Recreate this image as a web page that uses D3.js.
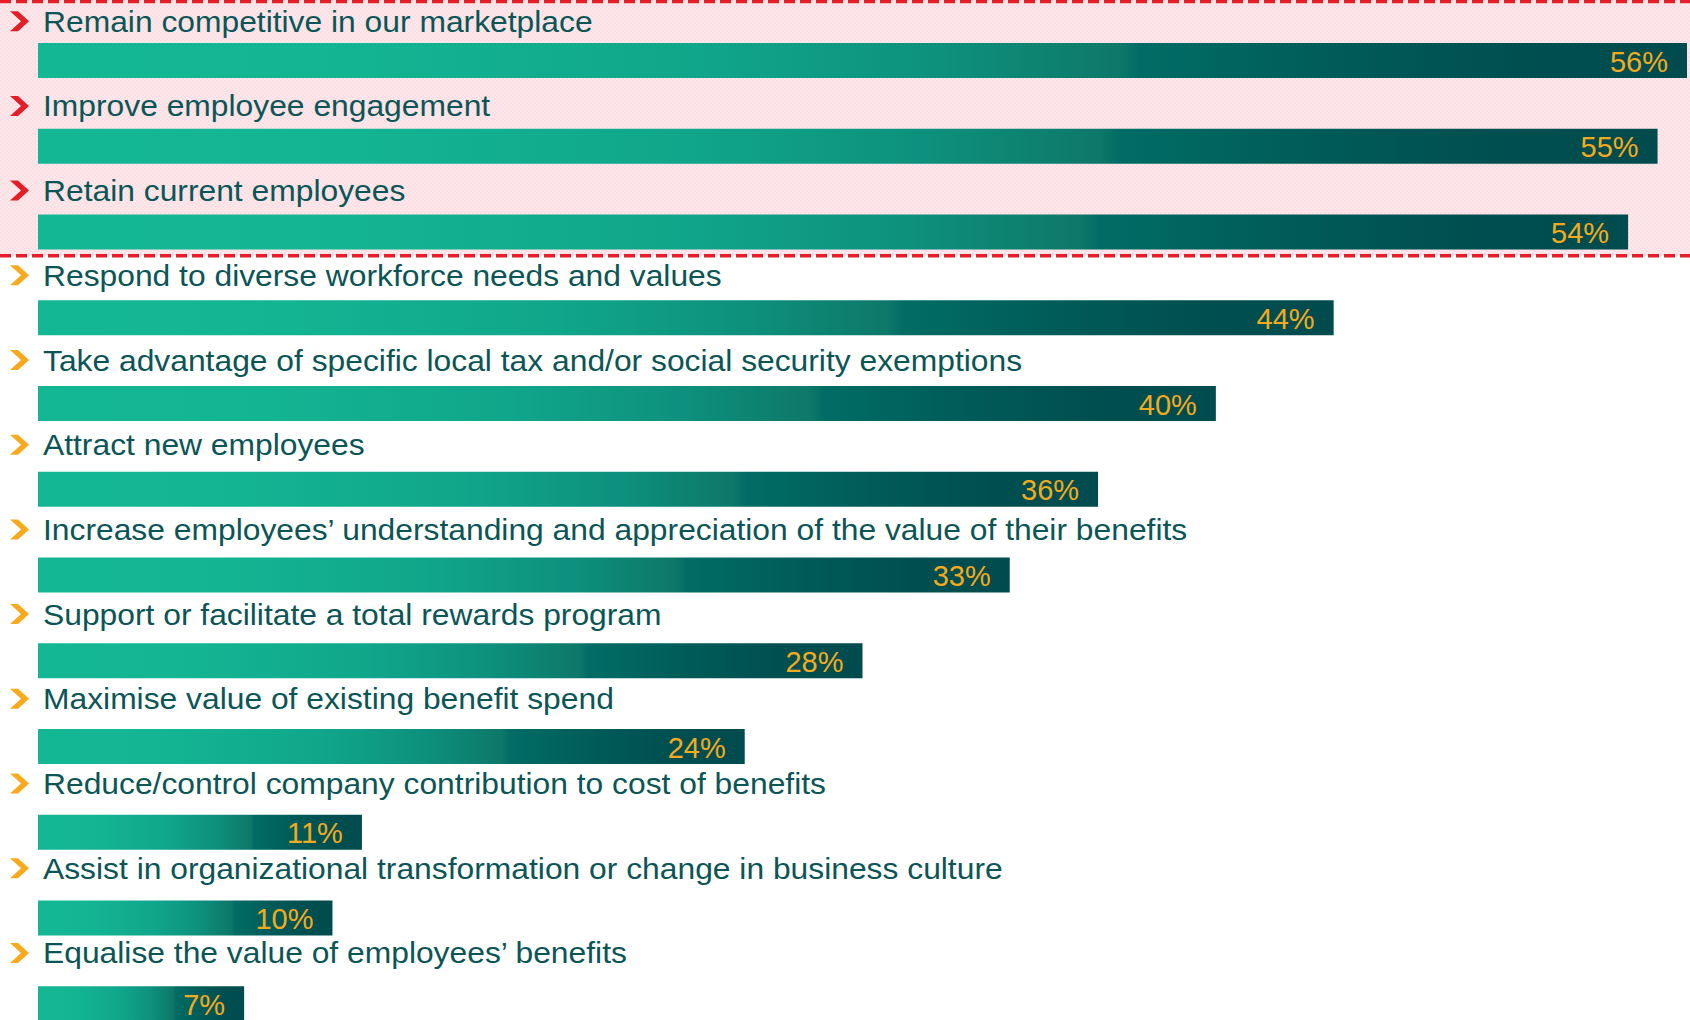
<!DOCTYPE html>
<html>
<head>
<meta charset="utf-8">
<script src="https://cdn.jsdelivr.net/npm/d3@7"></script>
<style>
  html, body { margin: 0; padding: 0; background: #ffffff; }
  svg { display: block; }
</style>
</head>
<body>
<svg id="chart" width="1690" height="1020"></svg>
<script>
// Reasons for offering benefits, share of respondents (%)
const categories = [
  "Remain competitive in our marketplace",
  "Improve employee engagement",
  "Retain current employees",
  "Respond to diverse workforce needs and values",
  "Take advantage of specific local tax and/or social security exemptions",
  "Attract new employees",
  "Increase employees\u2019 understanding and appreciation of the value of their benefits",
  "Support or facilitate a total rewards program",
  "Maximise value of existing benefit spend",
  "Reduce/control company contribution to cost of benefits",
  "Assist in organizational transformation or change in business culture",
  "Equalise the value of employees\u2019 benefits"
];
const values = [56, 55, 54, 44, 40, 36, 33, 28, 24, 11, 10, 7];
// Top reasons get highlighted
const highlighted = [true, true, true, false, false, false, false, false, false, false, false, false];

const W = 1690, H = 1020;
const svg = d3.select("#chart");
const FONT = "'Liberation Sans', Arial, sans-serif";

const data = categories.map((c, i) => ({ label: c, value: values[i], top: highlighted[i] }));

const x = d3.scaleLinear().domain([0, 56]).range([38, 1687]);
// bar rows and label rows sit on slightly different pitches
const yBar = d3.scaleBand().domain(categories).range([43, 43 + 85.75 * categories.length]);
const yLabel = d3.scaleBand().domain(categories).range([31.7, 31.7 + 84.7 * categories.length]);
const barH = 35;

const defs = svg.append("defs");
const grad = defs.append("linearGradient").attr("id", "barGrad")
  .attr("x1", "0").attr("y1", "0").attr("x2", "1").attr("y2", "0");
[
  [0, "#14b794"], [0.2, "#13b492"], [0.4, "#10a68b"], [0.55, "#0d907d"],
  [0.655, "#0e7869"], [0.668, "#016c65"], [0.8, "#005a57"], [0.9, "#004f50"], [1, "#004b4d"]
].forEach(([o, c]) => grad.append("stop").attr("offset", o).attr("stop-color", c));

// faint dotted texture for the highlighted band
const pat = defs.append("pattern").attr("id", "dots").attr("width", 4).attr("height", 4)
  .attr("patternUnits", "userSpaceOnUse");
pat.append("rect").attr("width", 4).attr("height", 4).attr("fill", "#fde7ea");
pat.append("circle").attr("cx", 1).attr("cy", 1).attr("r", 0.8).attr("fill", "#f8d9de");
pat.append("circle").attr("cx", 3).attr("cy", 3).attr("r", 0.8).attr("fill", "#f8d9de");

// highlighted band behind the top reasons
const nTop = highlighted.filter(Boolean).length;
const bandBottom = yBar(categories[nTop]) - 43 - 1.5;
svg.append("rect").attr("x", 0).attr("y", 0).attr("width", W).attr("height", bandBottom)
  .attr("fill", "url(#dots)");
[1.5, bandBottom].forEach(yy => {
  svg.append("line").attr("x1", 0).attr("x2", W).attr("y1", yy).attr("y2", yy)
    .attr("stroke", "#e61e29").attr("stroke-width", 3.5).attr("stroke-dasharray", "11,5");
});

// chevron bullets
svg.append("g").selectAll("path").data(data).join("path")
  .attr("d", "M-9,-10 L-1,-10 L10,0 L-1,10 L-9,10 L2,0 Z")
  .attr("transform", d => `translate(19,${yLabel(d.label) - 10.5})`)
  .attr("fill", d => d.top ? "#e31e27" : "#f8aa1c");

// category labels (set slightly wide)
svg.append("g").selectAll("text").data(data).join("text")
  .attr("transform", d => `translate(43,${yLabel(d.label)}) scale(1.097,1)`)
  .attr("font-family", FONT)
  .attr("font-size", 29)
  .attr("fill", "#0b5557")
  .text(d => d.label);

// bars
svg.append("g").selectAll("rect").data(data).join("rect")
  .attr("x", x(0)).attr("y", d => yBar(d.label))
  .attr("width", d => x(d.value) - x(0)).attr("height", barH)
  .attr("fill", "url(#barGrad)");

// value labels
svg.append("g").selectAll("text").data(data).join("text")
  .attr("x", d => x(d.value) - 19).attr("y", d => yBar(d.label) + 28.5)
  .attr("text-anchor", "end")
  .attr("font-family", FONT)
  .attr("font-size", 29)
  .attr("fill", "#f3aa1f")
  .text(d => d.value + "%");
</script>
</body>
</html>
